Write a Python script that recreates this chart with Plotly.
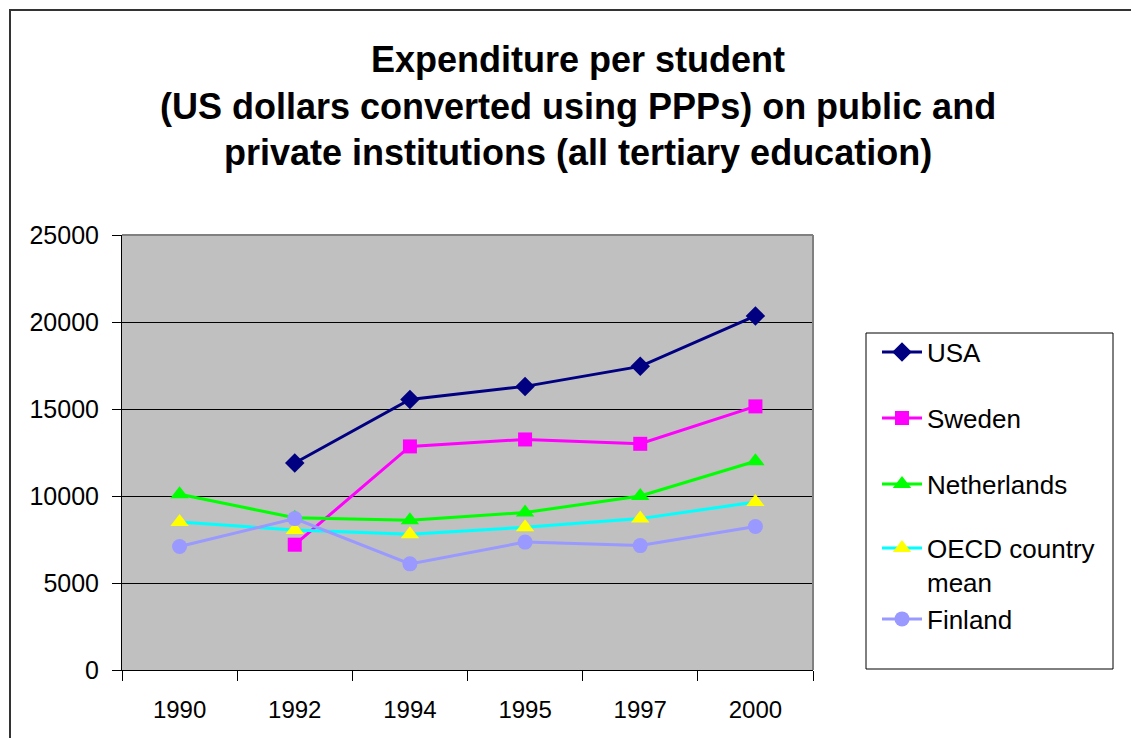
import plotly.graph_objects as go

years = ["1990", "1992", "1994", "1995", "1997", "2000"]
usa = [None, 11900, 15550, 16300, 17450, 20350]
sweden = [None, 7200, 12850, 13250, 13000, 15150]
netherlands = [10100, 8750, 8600, 9050, 10000, 12000]
oecd = [8500, 8050, 7800, 8200, 8700, 9650]
finland = [7100, 8700, 6100, 7350, 7150, 8250]

title_lines = ["Expenditure per student",
               "(US dollars converted using PPPs) on public and",
               "private institutions (all tertiary education)"]

series = [
    ("USA", usa, "#000080", "#000080", "diamond", 15),
    ("Sweden", sweden, "#FF00FF", "#FF00FF", "square", 14),
    ("Netherlands", netherlands, "#00FF00", "#00FF00", "triangle-up", 16),
    ("OECD country<br>mean", oecd, "#00FFFF", "#FFFF00", "triangle-up", 16),
    ("Finland", finland, "#9999FF", "#9999FF", "circle", 15),
]
legend_names = ["legend", "legend2", "legend3", "legend4", "legend5"]
legend_y = [352, 418, 484, 565, 619]   # page px (item centres)

# page offset (body margin) compensation
OFF = 8
L, R, T, B = 122, 813, 235, 670          # plot area in page px
W, H = 1139 - OFF, 738 - OFF
pw, ph = R - L, B - T


def px(x):
    return (x - L) / pw


def py(y):
    return (B - y) / ph


fig = go.Figure()
for i, (name, vals, lc, mc, sym, sz) in enumerate(series):
    fig.add_trace(go.Scatter(
        x=years, y=vals, name=name, mode="lines+markers",
        line=dict(color=lc, width=3),
        marker=dict(color=mc, symbol=sym, size=sz, line=dict(width=0)),
        legend=legend_names[i], connectgaps=False,
    ))

layout_legends = {}
for ln, ly in zip(legend_names, legend_y):
    layout_legends[ln] = dict(x=px(877), y=py(ly), xanchor="left", yanchor="middle",
                              bgcolor="rgba(0,0,0,0)", borderwidth=0,
                              font=dict(size=26), valign="top", itemwidth=40)

fig.update_layout(
    width=W, height=H,
    margin=dict(l=L - OFF, r=W - (R - OFF), t=T - OFF, b=H - (B - OFF), autoexpand=False),
    paper_bgcolor="white", plot_bgcolor="#C0C0C0",
    font=dict(family="Liberation Sans, Arial, sans-serif", size=24, color="black"),
    showlegend=True,
    xaxis=dict(type="category", range=[-0.5, 5.5], tickson="boundaries",
               ticks="outside", ticklen=10, tickcolor="black", tickwidth=1,
               showline=True, linecolor="black", linewidth=1,
               showgrid=False, zeroline=False, ticklabelstandoff=18,
               tickfont=dict(size=24)),
    yaxis=dict(range=[0, 25000], dtick=5000, tickformat="d", ticks="outside", ticklen=9,
               tickcolor="black", showline=True, linecolor="black", linewidth=1,
               showgrid=True, gridcolor="black", gridwidth=1, zeroline=False,
               ticklabelstandoff=8, tickfont=dict(size=25)),
    **layout_legends,
)

# plot area top/right border (gray)
fig.add_shape(type="line", xref="paper", yref="paper", x0=0, x1=1, y0=1, y1=1,
              line=dict(color="#808080", width=2))
fig.add_shape(type="line", xref="paper", yref="paper", x0=1, x1=1, y0=0, y1=1,
              line=dict(color="#808080", width=2))
# legend box
fig.add_shape(type="rect", xref="paper", yref="paper",
              x0=px(866), x1=px(1113), y0=py(669), y1=py(333),
              line=dict(color="black", width=1), fillcolor="rgba(0,0,0,0)")
# outer chart border
fig.add_shape(type="rect", xref="paper", yref="paper",
              x0=px(10), x1=px(1160), y0=py(760), y1=py(10),
              line=dict(color="#333333", width=2), fillcolor="rgba(0,0,0,0)")

for txt, yc in zip(title_lines, [60, 106, 153]):
    fig.add_annotation(text="<b>%s</b>" % txt, xref="paper", yref="paper",
                       x=px(578), y=py(yc), xanchor="center", yanchor="middle",
                       showarrow=False, font=dict(size=36, color="black"))

fig.write_html("out.html")
